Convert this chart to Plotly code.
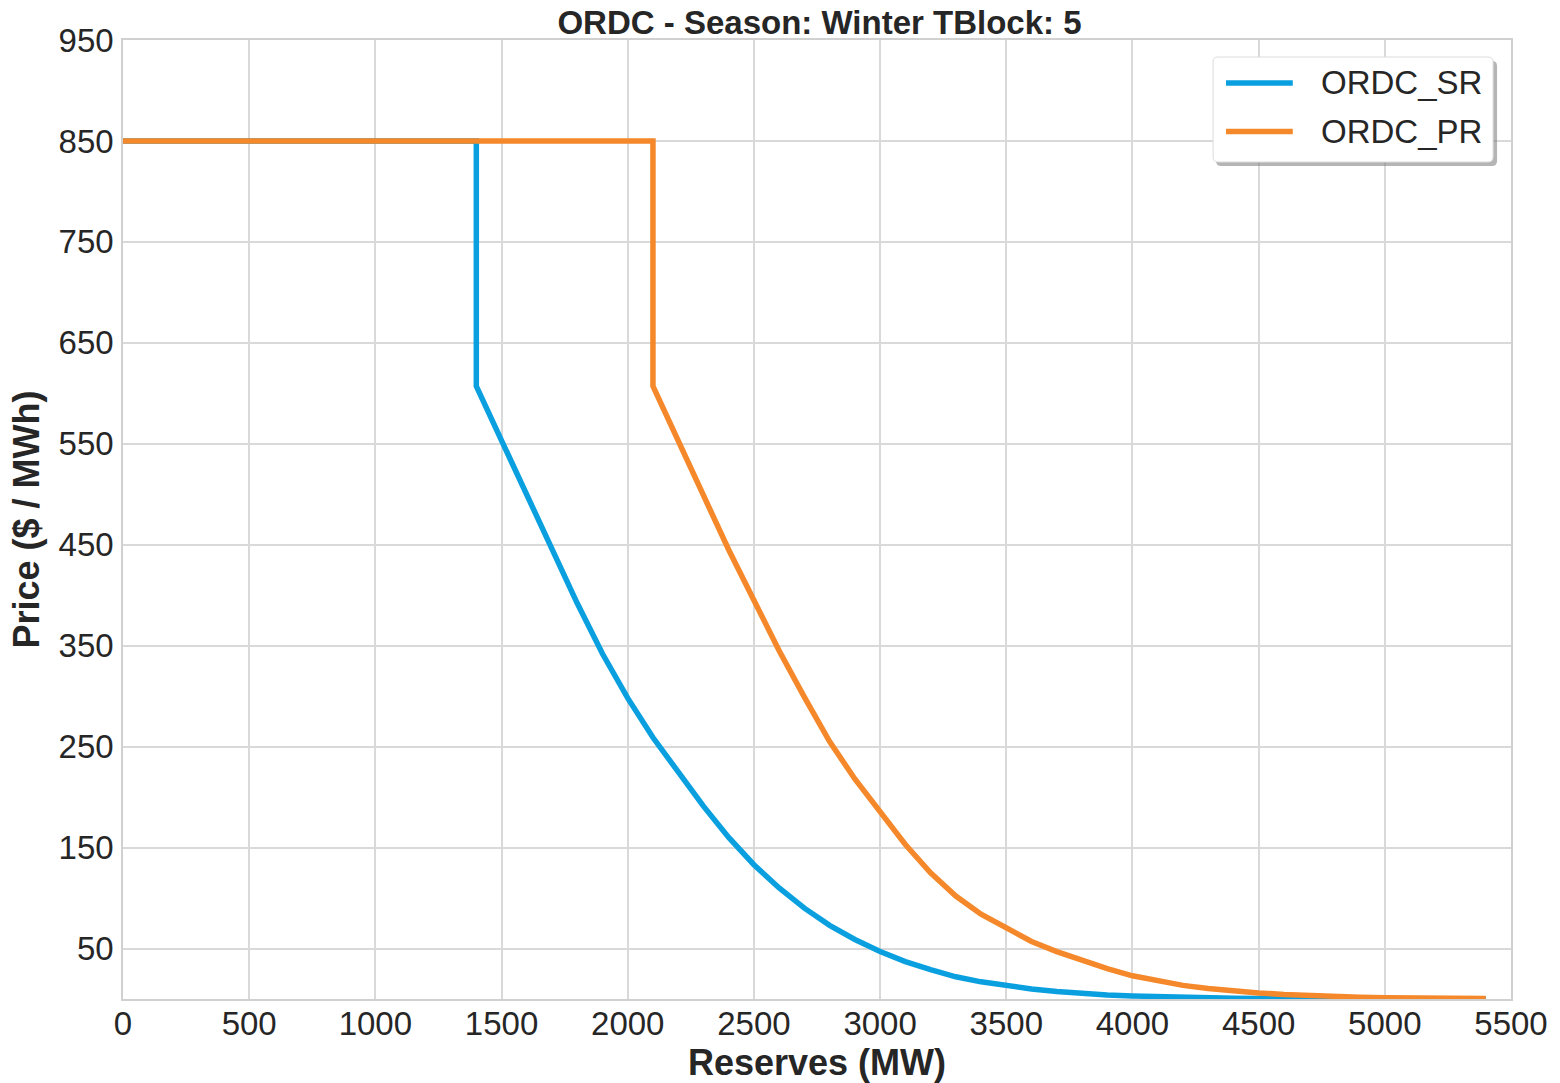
import plotly.graph_objects as go

# ---- data ----
sr_reserves = [0, 1400, 1400, 1500, 1600, 1700, 1800, 1900, 2000, 2100, 2200, 2300, 2400,
               2500, 2600, 2700, 2800, 2900, 3000, 3100, 3200, 3300, 3400, 3500, 3600,
               3700, 3800, 3900, 4000, 4100, 4200, 4300, 4400, 4500, 4700, 4900, 5100, 5400]
sr_price = [850, 850, 607, 553, 499, 445, 392, 342, 298, 259, 224, 191, 160,
            133, 110, 90, 73, 59, 47, 37, 29, 22, 17, 13, 10,
            7.5, 5.5, 4, 3, 2.2, 1.6, 1.1, 0.8, 0.6, 0.35, 0.2, 0.1, 0.05]

pr_reserves = [0, 2100, 2100, 2200, 2300, 2400, 2500, 2600, 2700, 2800, 2900, 3000, 3100,
               3200, 3300, 3400, 3500, 3600, 3700, 3800, 3900, 4000, 4100, 4200, 4300,
               4400, 4500, 4600, 4700, 4800, 4900, 5000, 5100, 5200, 5300, 5400]
pr_price = [850, 850, 607, 553, 499, 445, 395, 345, 299, 255, 218, 185, 153,
            125, 102, 84, 70, 57, 47, 38, 30, 23, 18, 13.5, 10.5,
            8, 6, 4.5, 3.3, 2.5, 1.8, 1.3, 1.0, 0.7, 0.5, 0.4]

series_names = ["ORDC_SR", "ORDC_PR"]
series_colors = ["#0AA0E0", "#F5882A"]

x_ticks = [0, 500, 1000, 1500, 2000, 2500, 3000, 3500, 4000, 4500, 5000, 5500]
y_ticks = [50, 150, 250, 350, 450, 550, 650, 750, 850, 950]

title_text = "ORDC - Season: Winter TBlock: 5"
x_title = "Reserves (MW)"
y_title = "Price ($ / MWh)"

# ---- layout geometry (page pixels; body margin removed below) ----
W, H = 1560, 1083
L, R, T, B = 123, 1516, 40, 999
TXT = "#262626"
FONT = "Liberation Sans, Arial, sans-serif"


def px_x(px):
    return (px - L) / (R - L)


def px_y(py):
    return (B - py) / (B - T)


def rounded_rect(x0, y0, x1, y1, r):
    pts = [
        f"M {px_x(x0 + r)},{px_y(y0)}",
        f"L {px_x(x1 - r)},{px_y(y0)}",
        f"Q {px_x(x1)},{px_y(y0)} {px_x(x1)},{px_y(y0 + r)}",
        f"L {px_x(x1)},{px_y(y1 - r)}",
        f"Q {px_x(x1)},{px_y(y1)} {px_x(x1 - r)},{px_y(y1)}",
        f"L {px_x(x0 + r)},{px_y(y1)}",
        f"Q {px_x(x0)},{px_y(y1)} {px_x(x0)},{px_y(y1 - r)}",
        f"L {px_x(x0)},{px_y(y0 + r)}",
        f"Q {px_x(x0)},{px_y(y0)} {px_x(x0 + r)},{px_y(y0)}",
        "Z",
    ]
    return " ".join(pts)


fig = go.Figure()
for xs, ys, name, col in [(sr_reserves, sr_price, series_names[0], series_colors[0]),
                          (pr_reserves, pr_price, series_names[1], series_colors[1])]:
    fig.add_trace(go.Scatter(x=xs, y=ys, mode="lines", name=name,
                             line=dict(color=col, width=5.5), showlegend=False))

shapes = []
annotations = []
# legend shadow + box
shapes.append(dict(type="path", xref="paper", yref="paper",
                   path=rounded_rect(1220, 61, 1502, 166, 5),
                   fillcolor="rgba(120,120,120,0.55)", line=dict(width=0), layer="above"))
shapes.append(dict(type="path", xref="paper", yref="paper",
                   path=rounded_rect(1217, 57, 1498, 162, 5),
                   fillcolor="white", line=dict(color="#dcdcdc", width=1), layer="above"))
for i, (name, col) in enumerate(zip(series_names, series_colors)):
    yy = 83 + i * 48.5
    shapes.append(dict(type="line", xref="paper", yref="paper",
                       x0=px_x(1230), x1=px_x(1297), y0=px_y(yy), y1=px_y(yy),
                       line=dict(color=col, width=5.5), layer="above"))
    annotations.append(dict(xref="paper", yref="paper", x=px_x(1323), y=px_y(yy),
                            text=name, showarrow=False, xanchor="left", yanchor="middle",
                            font=dict(size=33, color=TXT, family=FONT)))

fig.update_layout(
    width=W, height=H,
    margin=dict(l=L, r=W - R, t=T, b=H - B, pad=0),
    paper_bgcolor="white", plot_bgcolor="white",
    title=dict(text=f"<b>{title_text}</b>", x=(L + R) / 2 / W, xanchor="center",
               y=1 - 22 / H, yanchor="middle",
               font=dict(size=33, color=TXT, family=FONT)),
    font=dict(family=FONT, color=TXT),
    shapes=shapes, annotations=annotations,
)
fig.update_xaxes(range=[0, 5500], tickvals=x_ticks, ticktext=[str(v) for v in x_ticks],
                 showgrid=True, gridcolor="#d9d9d9", gridwidth=1.5, zeroline=False,
                 showline=True, linecolor="#d0d0d0", linewidth=1.5, mirror=True,
                 ticks="", ticklabelstandoff=-5, ticklabeloverflow="allow",
                 tickfont=dict(size=33, color=TXT, family=FONT),
                 title=dict(text=f"<b>{x_title}</b>", font=dict(size=36, color=TXT, family=FONT),
                            standoff=0))
fig.update_yaxes(range=[0, 950], tickvals=y_ticks, ticktext=[str(v) for v in y_ticks],
                 showgrid=True, gridcolor="#d9d9d9", gridwidth=1.5, zeroline=False,
                 showline=True, linecolor="#d0d0d0", linewidth=1.5, mirror=True,
                 ticks="", ticklabelstandoff=1, ticklabeloverflow="allow",
                 tickfont=dict(size=33, color=TXT, family=FONT),
                 title=dict(text=f"<b>{y_title}</b>", font=dict(size=36, color=TXT, family=FONT),
                            standoff=8))

page_fix = ("document.documentElement.style.margin='0';document.body.style.margin='0';"
            "document.body.style.overflow='hidden';document.documentElement.style.overflow='hidden';")
fig.write_html("out.html", post_script=page_fix, config={"displayModeBar": False})
